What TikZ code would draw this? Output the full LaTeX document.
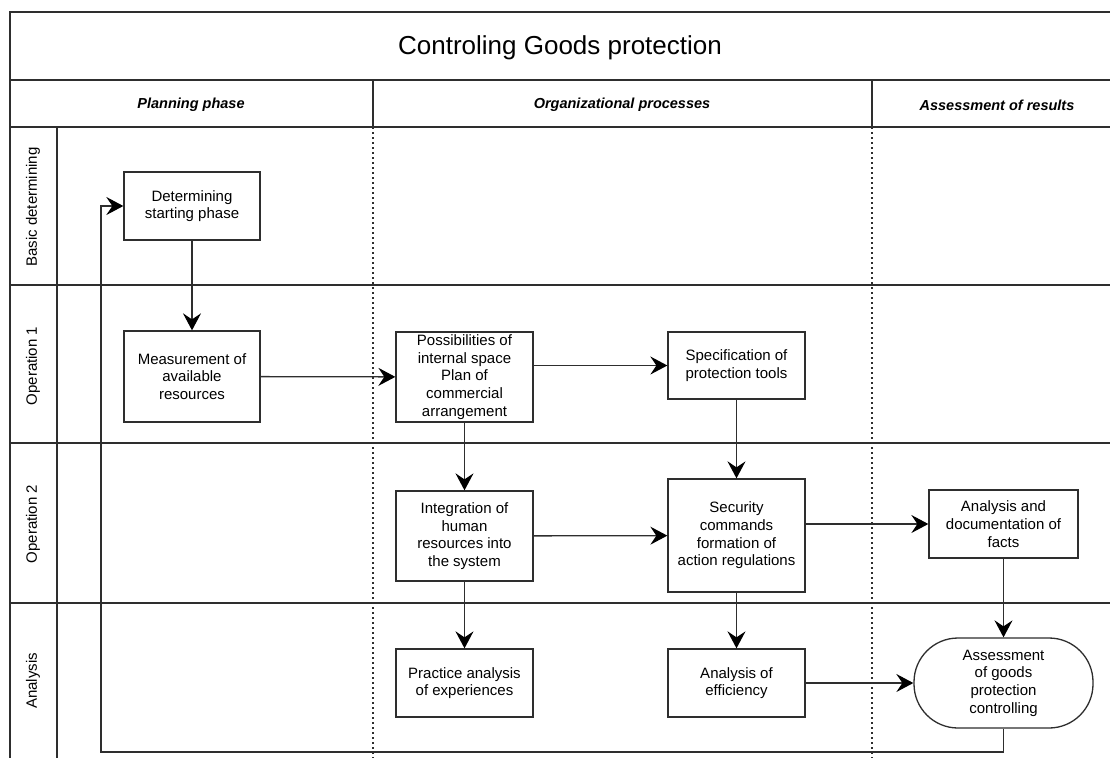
\documentclass[tikz,border=0pt]{standalone}
\usepackage{fontspec}
\setmainfont{Liberation Sans}
\usetikzlibrary{arrows.meta, positioning}
\definecolor{lnGrey}{HTML}{2E2E2E}
\tikzset{
  frameline/.style  = {lnGrey, line width=1.3pt},
  sepline/.style    = {lnGrey, line width=1.1pt, dash pattern=on 2pt off 3pt},
  procbox/.style    = {draw=lnGrey, line width=1.3pt, fill=white, align=center,
                       font=\fontsize{15}{17.7}\selectfont, inner sep=2pt},
  termbox/.style    = {procbox, rounded corners=44pt},
  flow/.style       = {-{Stealth[length=17pt, width=18pt, inset=6pt, black]},
                       lnGrey, line width=1.3pt},
  colhead/.style    = {font=\fontsize{14.5}{17}\selectfont\bfseries\itshape},
  lanelbl/.style    = {rotate=90, font=\fontsize{15}{18}\selectfont},
  titlelbl/.style   = {font=\fontsize{26}{30}\selectfont},
}
\begin{document}
\begin{tikzpicture}[x=1pt, y=-1pt]
  \useasboundingbox (0,0) rectangle (1110,758);
  \fill[white] (0,0) rectangle (1110,758);

  % pool frame and lanes
  \draw[frameline] (1110,12) -- (10,12) -- (10,758);
  \draw[frameline] (10,80) -- (1110,80);
  \draw[frameline] (10,127) -- (1110,127);
  \draw[frameline] (373,80) -- (373,127);
  \draw[frameline] (872,80) -- (872,127);
  \draw[frameline] (57,127) -- (57,758);
  \foreach \y in {285,443,603}
    \draw[frameline] (10,\y) -- (1110,\y);
  \draw[sepline] (373,127) -- (373,758);
  \draw[sepline] (872,127) -- (872,758);

  % titles
  \node[titlelbl] (title) at (560,48) {Controling Goods protection};
  \node[colhead] (hplan) at (191,105) {Planning phase};
  \node[colhead] (horg) at (622,105) {Organizational processes};
  \node[colhead] (hres) at (997,105) {Assessment of results};
  \node[lanelbl] (lbasic) at (33,207) {Basic determining};
  \node[lanelbl] (lop1) at (33,366) {Operation 1};
  \node[lanelbl] (lop2) at (33,524) {Operation 2};
  \node[lanelbl] (lana) at (33,681) {Analysis};

  % process steps
  \node[procbox, minimum width=136pt, minimum height=68pt] (start) at (192,206)
    {Determining\\starting phase};
  \node[procbox, minimum width=136pt, minimum height=91pt] (measure) at (192,376.5)
    {Measurement of\\available\\resources};
  \node[procbox, minimum width=137pt, minimum height=90pt] (space) at (464.5,377)
    {Possibilities of\\internal space\\Plan of\\commercial\\arrangement};
  \node[procbox, minimum width=137pt, minimum height=67pt] (tools) at (736.5,365.5)
    {Specification of\\protection tools};
  \node[procbox, minimum width=137pt, minimum height=90pt] (human) at (464.5,536)
    {Integration of\\human\\resources into\\the system};
  \node[procbox, minimum width=137pt, minimum height=113pt] (secur) at (736.5,535.5)
    {Security\\commands\\formation of\\action regulations};
  \node[procbox, minimum width=149pt, minimum height=68pt] (facts) at (1003.5,524)
    {Analysis and\\documentation of\\facts};
  \node[procbox, minimum width=137pt, minimum height=68pt] (practice) at (464.5,683)
    {Practice analysis\\of experiences};
  \node[procbox, minimum width=137pt, minimum height=68pt] (effic) at (736.5,683)
    {Analysis of\\efficiency};
  \node[termbox, minimum width=179pt, minimum height=90pt] (assess) at (1003.5,683)
    {Assessment\\of goods\\protection\\controlling};

  % flow
  \draw[flow] (start) -- (measure);
  \draw[flow] (measure) -- (space);
  \draw[flow] (space.east |- tools.west) -- (tools.west);
  \draw[flow] (space) -- (human);
  \draw[flow] (tools) -- (secur);
  \draw[flow] (human) -- (secur);
  \draw[flow] (secur.east |- facts.west) -- (facts.west);
  \draw[flow] (human) -- (practice);
  \draw[flow] (secur) -- (effic);
  \draw[flow] (facts) -- (assess);
  \draw[flow] (effic) -- (assess);
  \coordinate (loop) at (101,752);
  \draw[flow] (assess.south) |- (loop) |- (start.west);
\end{tikzpicture}
\end{document}
